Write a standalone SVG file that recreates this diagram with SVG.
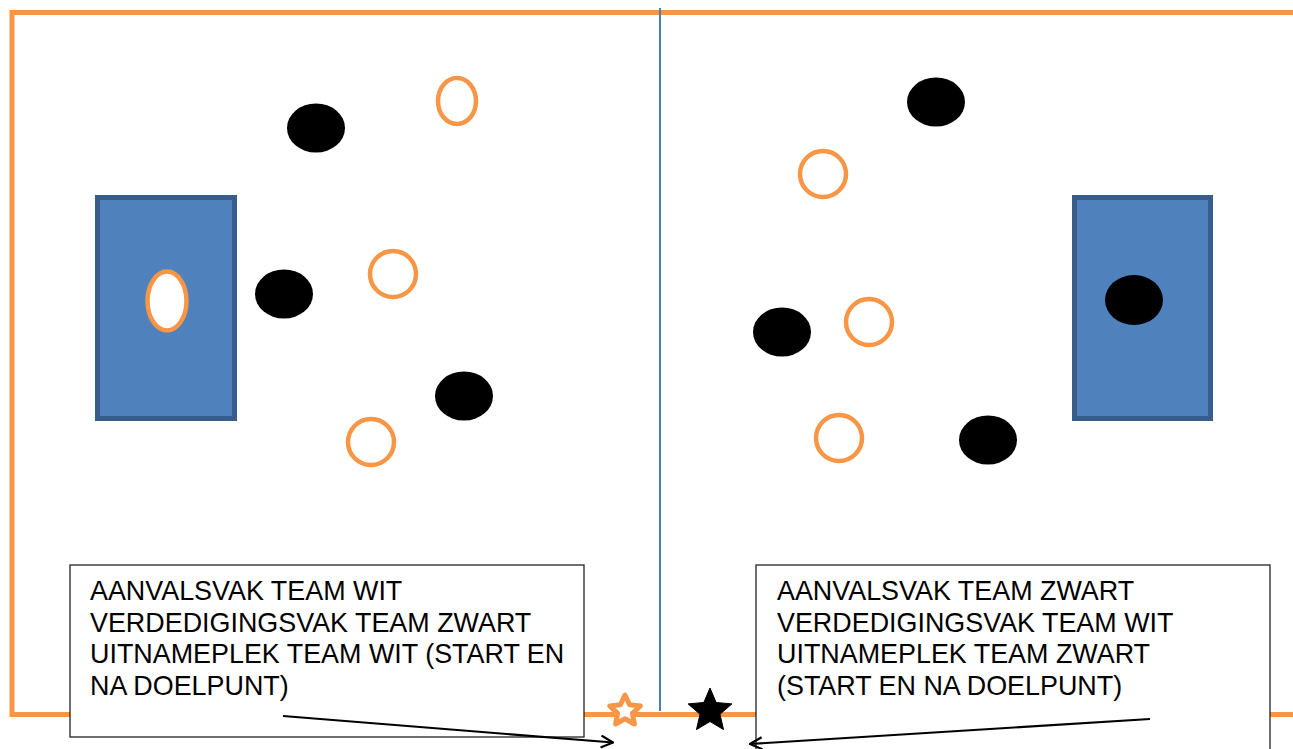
<svg xmlns="http://www.w3.org/2000/svg" width="1293" height="749" viewBox="0 0 1293 749">
<style>
.border{fill:none;stroke:#F79646;stroke-width:5}
.goal{fill:#4F81BD;stroke:#385D8A;stroke-width:5}
.blk{fill:#000}
.wht{fill:#fff;stroke:#F79646;stroke-width:4.5}
.box{fill:#fff;stroke:#222;stroke-width:1.3}
.txt{font-family:"Liberation Sans",Arial,sans-serif;font-size:26.9px;fill:#000}
.arr{fill:none;stroke:#000;stroke-width:2.2}
</style>
<defs>
<marker id="open" viewBox="0 0 14 14" refX="13" refY="7" markerWidth="14" markerHeight="14" markerUnits="userSpaceOnUse" orient="auto">
<path d="M1,1 L13,7 L1,13" fill="none" stroke="#000" stroke-width="2.2"/>
</marker>
</defs>
<rect width="1293" height="749" fill="#fff"/>
<g id="field">
<path class="border" d="M1293,12.5 H12 V714.5 H1293"/>
<line x1="660" y1="8" x2="660" y2="711" stroke="#4A7EBB" stroke-width="2"/>
</g>
<g id="goal-left">
<rect class="goal" x="97.5" y="197.5" width="137" height="221"/>
<ellipse class="wht" cx="167" cy="301" rx="19.5" ry="29.5"/>
</g>
<g id="goal-right">
<rect class="goal" x="1074.5" y="197.5" width="136" height="221"/>
<ellipse class="blk" cx="1134" cy="300" rx="29" ry="25"/>
</g>
<g id="players-left">
<ellipse class="blk" cx="316" cy="128" rx="29" ry="24.5"/>
<ellipse class="wht" cx="457" cy="101" rx="19" ry="23"/>
<ellipse class="blk" cx="284" cy="294" rx="29" ry="24.5"/>
<ellipse class="wht" cx="393" cy="274" rx="23" ry="23"/>
<ellipse class="blk" cx="464" cy="396" rx="29" ry="24.5"/>
<ellipse class="wht" cx="371" cy="442" rx="23" ry="23"/>
</g>
<g id="players-right">
<ellipse class="blk" cx="936" cy="102" rx="29" ry="24.5"/>
<ellipse class="wht" cx="823" cy="174" rx="23" ry="23"/>
<ellipse class="blk" cx="782" cy="332" rx="29" ry="24.5"/>
<ellipse class="wht" cx="869" cy="322" rx="23" ry="23"/>
<ellipse class="wht" cx="839" cy="438" rx="23" ry="23"/>
<ellipse class="blk" cx="988" cy="440" rx="29" ry="24.5"/>
</g>
<g id="label-left">
<rect class="box" x="70" y="565" width="514" height="172"/>
<text class="txt" x="90" y="600">AANVALSVAK TEAM WIT</text>
<text class="txt" x="90" y="631.7">VERDEDIGINGSVAK TEAM ZWART</text>
<text class="txt" x="90" y="663.4">UITNAMEPLEK TEAM WIT (START EN</text>
<text class="txt" x="90" y="695.1">NA DOELPUNT)</text>
</g>
<g id="label-right">
<rect class="box" x="756" y="565" width="514" height="200"/>
<text class="txt" x="777" y="600">AANVALSVAK TEAM ZWART</text>
<text class="txt" x="777" y="631.7">VERDEDIGINGSVAK TEAM WIT</text>
<text class="txt" x="777" y="663.4">UITNAMEPLEK TEAM ZWART</text>
<text class="txt" x="777" y="695.1">(START EN NA DOELPUNT)</text>
</g>
<g id="star-white">
<path d="M625,695 L629.6,704.7 L640.3,706 L632.4,713.4 L634.4,724 L625,718.8 L615.6,724 L617.6,713.4 L609.7,706 L620.4,704.7 Z" fill="#fff" stroke="#F79646" stroke-width="5" stroke-linejoin="round"/>
</g>
<g id="star-black">
<path d="M710,688 L716.17,702.51 L731.88,703.89 L719.99,714.24 L723.52,729.61 L710,721.5 L696.48,729.61 L700.01,714.24 L688.12,703.89 L703.83,702.51 Z" fill="#000" stroke="#000" stroke-width="1" stroke-linejoin="round"/>
</g>
<g id="connectors">
<line class="arr" x1="283" y1="716" x2="613" y2="742.5" marker-end="url(#open)"/>
<line class="arr" x1="1150" y1="719" x2="750" y2="744" marker-end="url(#open)"/>
</g>
</svg>
